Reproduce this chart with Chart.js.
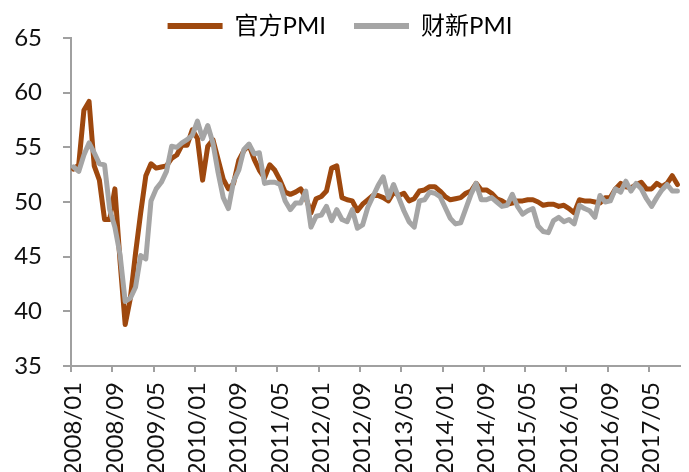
<!DOCTYPE html>
<html>
<head>
<meta charset="utf-8">
<script src="https://cdn.jsdelivr.net/npm/chart.js@4.4.1/dist/chart.umd.min.js"></script>
<style>
html,body{margin:0;padding:0;background:#ffffff;}
#wrap{width:689px;height:472px;position:relative;}
</style>
</head>
<body>
<div id="wrap"><canvas id="c" width="689" height="472"></canvas></div>
<script>
const seriesNames = ['官方PMI', '财新PMI'];

const officialPMI = [
  53.0, 53.4, 58.4, 59.2, 53.3, 52.0, 48.4, 48.4, 51.2, 44.6, 38.8, 41.2,
  45.3, 49.0, 52.4, 53.5, 53.1, 53.2, 53.3, 54.0, 54.3, 55.2, 55.2, 56.6,
  55.8, 52.0, 55.1, 55.7, 53.9, 52.1, 51.2, 51.7, 53.8, 54.7, 55.2, 53.9,
  52.9, 52.2, 53.4, 52.9, 52.0, 50.9, 50.7, 50.9, 51.2, 50.4, 49.0, 50.3,
  50.5, 51.0, 53.1, 53.3, 50.4, 50.2, 50.1, 49.2, 49.8, 50.2, 50.6, 50.6,
  50.4, 50.1, 50.9, 50.6, 50.8, 50.1, 50.3, 51.0, 51.1, 51.4, 51.4, 51.0,
  50.5, 50.2, 50.3, 50.4, 50.8, 51.0, 51.7, 51.1, 51.1, 50.8, 50.3, 50.1,
  49.8, 49.9, 50.1, 50.1, 50.2, 50.2, 50.0, 49.7, 49.8, 49.8, 49.6, 49.7,
  49.4, 49.0, 50.2, 50.1, 50.1, 50.0, 49.9, 50.4, 50.4, 51.2, 51.7, 51.4,
  51.3, 51.6, 51.8, 51.2, 51.2, 51.7, 51.4, 51.7, 52.4, 51.6
];

const caixinPMI = [
  53.2, 52.8, 54.3, 55.4, 54.5, 53.5, 53.4, 49.3, 47.7, 45.2, 40.9, 41.2,
  42.2, 45.1, 44.8, 50.1, 51.2, 51.8, 52.8, 55.1, 55.0, 55.4, 55.7, 56.1,
  57.4, 55.8, 57.0, 55.4, 52.7, 50.4, 49.4, 51.9, 52.9, 54.8, 55.3, 54.4,
  54.5, 51.7, 51.8, 51.8, 51.6, 50.1, 49.3, 49.9, 49.9, 51.0, 47.7, 48.7,
  48.8, 49.6, 48.3, 49.3, 48.4, 48.2, 49.3, 47.6, 47.9, 49.5, 50.5, 51.5,
  52.3, 50.4, 51.6, 50.4, 49.2, 48.2, 47.7, 50.1, 50.2, 50.9, 50.8, 50.5,
  49.5, 48.5, 48.0, 48.1, 49.4, 50.7, 51.7, 50.2, 50.2, 50.4, 50.0, 49.6,
  49.7, 50.7, 49.6, 48.9, 49.2, 49.4, 47.8, 47.3, 47.2, 48.3, 48.6, 48.2,
  48.4, 48.0, 49.7, 49.4, 49.2, 48.6, 50.6, 50.0, 50.1, 51.2, 50.9, 51.9,
  51.0, 51.7, 51.2, 50.3, 49.6, 50.4, 51.1, 51.6, 51.0, 51.0
];

const tickLabels = ['2008/01','2008/09','2009/05','2010/01','2010/09','2011/05','2012/01',
  '2012/09','2013/05','2014/01','2014/09','2015/05','2016/01','2016/09','2017/05'];

const yTicks = [35, 40, 45, 50, 55, 60, 65];

// monthly categories 2008/01 .. 2017/10
const categories = [];
for (let y = 2008; y <= 2017; y++) {
  for (let m = 1; m <= 12; m++) {
    if (y === 2017 && m > 10) break;
    categories.push(y + '/' + String(m).padStart(2, '0'));
  }
}

const FONT = "Lato, 'Noto Sans CJK SC', sans-serif";
const AXIS_GRAY = '#a0a0a0';
const BROWN = '#9E480E';
const GRAY = '#A5A5A5';

new Chart(document.getElementById('c'), {
  type: 'line',
  data: {
    labels: categories,
    datasets: [
      { label: seriesNames[0], data: officialPMI, borderColor: BROWN, backgroundColor: BROWN,
        borderWidth: 5, pointRadius: 0, tension: 0, fill: false, order: 1,
        borderJoinStyle: 'round', borderCapStyle: 'round' },
      { label: seriesNames[1], data: caixinPMI, borderColor: GRAY, backgroundColor: GRAY,
        borderWidth: 5, pointRadius: 0, tension: 0, fill: false, order: 0,
        borderJoinStyle: 'round', borderCapStyle: 'round' }
    ]
  },
  options: {
    responsive: false,
    animation: false,
    devicePixelRatio: 1,
    layout: { padding: { top: -14, right: 9, left: 0, bottom: 0 } },
    plugins: {
      tooltip: { enabled: false },
      legend: {
        position: 'top',
        align: 'center',
        maxHeight: 52,
        labels: {
          boxWidth: 55,
          boxHeight: 6,
          padding: 28,
          color: '#111111',
          font: { size: 24, family: FONT },
          generateLabels: (chart) => chart.data.datasets.map((d, i) => ({
            text: d.label, fillStyle: d.borderColor, strokeStyle: d.borderColor,
            lineWidth: 0, hidden: false, datasetIndex: i
          }))
        }
      }
    },
    scales: {
      x: {
        type: 'category',
        offset: true,
        grid: {
          drawOnChartArea: false,
          drawTicks: true,
          tickLength: 6,
          offset: true,
          lineWidth: 2,
          color: (ctx) => (ctx.index % 8 === 0 ? AXIS_GRAY : 'rgba(0,0,0,0)')
        },
        border: { display: true, color: AXIS_GRAY, width: 2 },
        ticks: {
          autoSkip: false,
          minRotation: 90,
          maxRotation: 90,
          padding: 10,
          color: '#111111',
          font: { size: 24, family: FONT },
          callback: (v, i) => (tickLabels.includes(categories[i]) ? categories[i] : '')
        },
        afterFit: (scale) => { scale.height = 106; scale.paddingLeft = 0; scale.paddingRight = 0; }
      },
      y: {
        min: 35,
        max: 65,
        afterBuildTicks: (scale) => { scale.ticks = yTicks.map(v => ({ value: v })); },
        grid: {
          drawOnChartArea: false,
          drawTicks: true,
          tickLength: 8,
          lineWidth: 2,
          color: AXIS_GRAY
        },
        border: { display: true, color: AXIS_GRAY, width: 2 },
        ticks: {
          padding: 21,
          color: '#111111',
          font: { size: 24, family: FONT }
        },
        afterFit: (scale) => { scale.width = 71; }
      }
    }
  }
});
</script>
</body>
</html>
